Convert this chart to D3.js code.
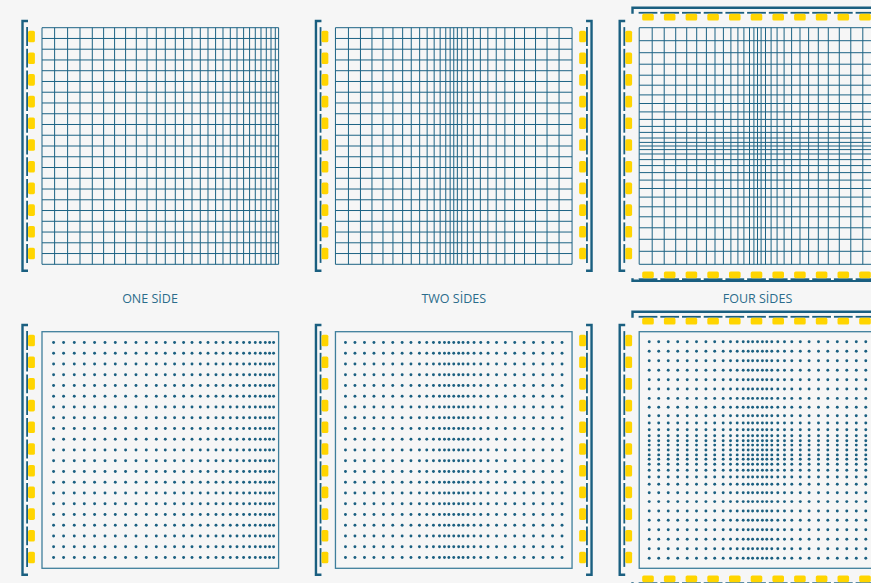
<!DOCTYPE html>
<html>
<head>
<meta charset="utf-8">
<script src="https://cdn.jsdelivr.net/npm/d3@7"></script>
<style>
  body { margin: 0; background: #f6f6f6; }
  svg { display: block; }
</style>
</head>
<body>
<svg id="main" width="871" height="583"></svg>
<script>
"use strict";

//data: positions, in percent of the box side
const sides = ["one", "two", "four"];
const labels = ["ONE SİDE", "TWO SİDES", "FOUR SİDES"];

// grid lines pushed away from a single magnet (left)
const linesOneSide = [0, 5.33, 10.82, 16.06, 21.26, 26.04, 30.68, 35.33, 39.86, 44.38,
  48.31, 52.11, 56.34, 59.85, 63.40, 66.91, 70.16, 73.37, 76.50, 79.59,
  82.42, 85.21, 87.74, 90.15, 92.56, 94.80, 96.79, 98.61, 100];
// grid lines squeezed to the middle by two facing magnets
const linesTwoSides = [0, 5.49, 10.57, 15.43, 20.08, 24.30, 28.40, 32.04, 35.59, 38.76,
  41.72, 44.25, 46.62, 48.48, 50, 51.52, 53.38, 55.75, 58.28, 61.24,
  64.41, 67.96, 71.60, 75.70, 79.92, 84.57, 89.43, 94.51, 100];
// dot columns
const dotsOneSide = [4.90, 9.13, 13.65, 17.88, 22.23, 26.63, 30.98, 35.33, 39.73, 44.08,
  48.31, 52.11, 56.04, 59.85, 63.40, 66.91, 70.16, 73.54, 76.50, 79.59,
  82.42, 85.21, 87.74, 90.15, 92.27, 94.38, 96.20, 97.89];
const dotsTwoSides = [4.23, 8.24, 12.26, 16.27, 20.29, 24.22, 28.19, 31.91, 35.50, 38.59,
  41.42, 43.96, 46.07, 47.93, 50, 52.07, 53.93, 56.04, 58.58, 61.41,
  64.50, 68.09, 71.81, 75.78, 79.71, 83.73, 87.74, 91.76, 95.77];
// even rows: 22 steps
const evenSteps = d3.range(0, 23);
const evenInner = d3.range(1, 22);
const magnets = d3.range(0, 11);

const colors = {
  ink: "#1a5f80",
  line: "#1d6384",
  frame: "#3f7f9c",
  yellow: "#ffd500",
  text: "#2b6c8b"
};

const boxSize = 236.6;
const svg = d3.select("#main");

const cellX = d3.scalePoint().domain(sides).range([150, 757.5]);
const rowY = d3.scalePoint().domain(["lines", "dots"]).range([27.7, 331.7]);
const pct = d3.scaleLinear().domain([0, 100]).range([0, boxSize]);
const even = d3.scaleLinear().domain([0, 22]).range([0, boxSize]);
const magnetPos = d3.scaleLinear().domain([0, 10]).range([8.8, 225.8]);

const panels = [
  { side: "one", label: labels[0], cols: linesOneSide, rows: null,
    dotCols: dotsOneSide, dotRows: null, mags: ["left"], shift: 108 },
  { side: "two", label: labels[1], cols: linesTwoSides, rows: null,
    dotCols: dotsTwoSides, dotRows: null, mags: ["left", "right"], shift: 118.3 },
  { side: "four", label: labels[2], cols: linesTwoSides, rows: linesTwoSides,
    dotCols: dotsTwoSides, dotRows: dotsTwoSides, mags: ["left", "right", "top", "bottom"], shift: 118.3 }
];

// magnet drawn along the left edge in local coords, then turned to its side
const bracketOffset = { left: 19.5, right: 19.5, top: 20, bottom: 16.5 };
const magnetTransform = (side, x0, y0) => {
  if (side === "left") return `translate(${x0},${y0})`;
  if (side === "right") return `translate(${x0 + boxSize},${y0}) scale(-1,1)`;
  if (side === "top") return `translate(${x0},${y0}) matrix(0,1,1,0,0,0)`;
  return `translate(${x0},${y0 + boxSize}) matrix(0,-1,1,0,0,0)`;
};

const drawMagnet = (g, side, x0, y0) => {
  const m = g.append("g").attr("transform", magnetTransform(side, x0, y0));
  const bx = -bracketOffset[side];
  m.append("path")
    .attr("d", `M-14,-6.7H${bx}V${boxSize + 6.5}H-14`)
    .attr("fill", "none")
    .attr("stroke", colors.ink)
    .attr("stroke-width", 2.4);
  m.append("line")
    .attr("x1", -14.9).attr("x2", -14.9)
    .attr("y1", magnetPos(0) - 9.6).attr("y2", magnetPos(10) + 9.6)
    .attr("stroke", "#ffffff")
    .attr("stroke-width", 1.8);
  m.selectAll(".dash")
    .data(magnets)
    .enter().append("line")
    .attr("class", "dash")
    .attr("x1", -14.9).attr("x2", -14.9)
    .attr("y1", (d) => magnetPos(d) - 9.4)
    .attr("y2", (d) => magnetPos(d) + 9.4)
    .attr("stroke", colors.ink)
    .attr("stroke-width", 1.8);
  m.selectAll(".pole")
    .data(magnets)
    .enter().append("rect")
    .attr("class", "pole")
    .attr("x", -13.9)
    .attr("width", 6.8)
    .attr("y", (d) => magnetPos(d) - 5.8)
    .attr("height", 11.6)
    .attr("rx", 1.6)
    .attr("fill", colors.yellow);
};

panels.forEach((p) => {
  const x0 = cellX(p.side) - p.shift;

  // top row: grid lines
  const y0 = rowY("lines");
  const grid = svg.append("g").attr("transform", `translate(${x0},${y0})`);
  const rowVals = p.rows ? p.rows.map(pct) : evenSteps.map(even);
  const colVals = p.cols.map(pct);
  grid.selectAll(".h")
    .data(rowVals)
    .enter().append("line")
    .attr("x1", 0).attr("x2", boxSize)
    .attr("y1", (d) => d).attr("y2", (d) => d)
    .attr("stroke", colors.line)
    .attr("stroke-width", 1);
  grid.selectAll(".v")
    .data(colVals)
    .enter().append("line")
    .attr("y1", 0).attr("y2", boxSize)
    .attr("x1", (d) => d).attr("x2", (d) => d)
    .attr("stroke", colors.line)
    .attr("stroke-width", 1);
  p.mags.forEach((s) => drawMagnet(svg, s, x0, y0));

  svg.append("text")
    .attr("x", cellX(p.side))
    .attr("y", y0 + boxSize + 38.5)
    .attr("text-anchor", "middle")
    .style("font-family", "'Open Sans', 'Noto Sans', sans-serif")
    .style("font-size", "12.5px")
    .style("fill", colors.text)
    .text(p.label);

  // bottom row: dots
  const y1 = rowY("dots");
  const dots = svg.append("g").attr("transform", `translate(${x0},${y1})`);
  dots.append("rect")
    .attr("width", boxSize).attr("height", boxSize)
    .attr("fill", "none")
    .attr("stroke", colors.frame)
    .attr("stroke-width", 1.3);
  const dRows = p.dotRows ? p.dotRows.map(pct) : evenInner.map(even);
  const dCols = p.dotCols.map(pct);
  const cells = d3.cross(dCols, dRows);
  dots.selectAll(".dot")
    .data(cells)
    .enter().append("circle")
    .attr("class", "dot")
    .attr("cx", (d) => d[0])
    .attr("cy", (d) => d[1])
    .attr("r", 1.45)
    .attr("fill", colors.ink);
  p.mags.forEach((s) => drawMagnet(svg, s, x0, y1));
});
</script>
</body>
</html>
